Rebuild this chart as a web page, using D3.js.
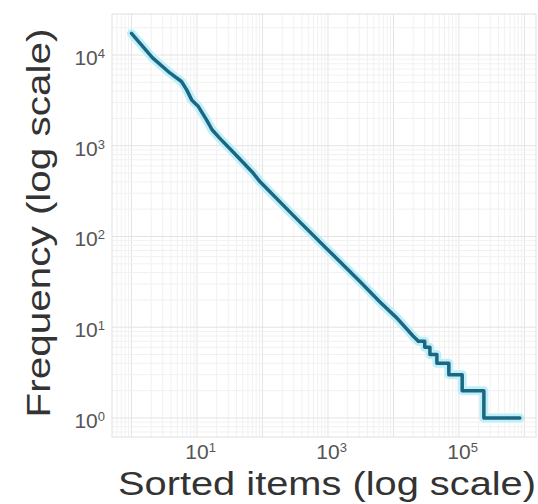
<!DOCTYPE html>
<html lang="en">
  <head>
    <meta charset="utf-8">
    <script src="https://cdn.jsdelivr.net/npm/d3@7/dist/d3.min.js"></script>
    <style>
      body { margin: 0; background: #fff; }
      svg text { font-family: "Liberation Sans", Arial, sans-serif; }
      .grid line { stroke: #f1f1f1; stroke-width: 1; }
      .grid line.major { stroke: #e3e3e3; }
      .tick text { fill: #555; }
    </style>
    <title>Sorted items vs frequency</title>
  </head>
  <body>
    <script>
      var width = 538, height = 504;
      var margin = {left: 112, right: 2, top: 14, bottom: 67};

      // smooth head of the rank/frequency curve
      var headRanks = [1, 2.1, 3.9, 5.8, 7, 8.3, 10.5, 14, 17, 22, 35, 72, 92, 290, 966, 3080, 6220, 11300, 19900, 24000];
      var headFreqs = [17300, 9300, 6300, 5100, 4100, 3200, 2700, 1930, 1500, 1220, 865, 500, 400, 173, 73, 32, 19, 12.6, 8, 7];
      // stepped tail (integer frequencies)
      var tailRanks = [24000, 30000, 36000, 46000, 70000, 112000, 240000, 850000];
      var tailFreqs = [7, 6, 5, 4, 3, 2, 1, 1];

      var xTicks = [10, 1000, 100000];
      var yTicks = [1, 10, 100, 1000, 10000];

      var x = d3.scaleLog().domain([0.504, 1.5e6]).range([margin.left, width - margin.right]);
      var y = d3.scaleLog().domain([0.617, 28300]).range([height - margin.bottom, margin.top]);

      var svg = d3.select("body").append("svg").attr("width", width).attr("height", height);

      // grid: all decade and sub-decade lines
      var xGrid = x.ticks().filter(function(d){ return d >= x.domain()[0] && d <= x.domain()[1]; });
      var yGrid = y.ticks().filter(function(d){ return d >= y.domain()[0] && d <= y.domain()[1]; });
      function isMajor(d) { var l = Math.log10(d); return Math.abs(l - Math.round(l)) < 1e-9; }

      var grid = svg.append("g").attr("class", "grid");
      grid.selectAll("line.v").data(xGrid).enter().append("line")
        .attr("class", function(d){ return isMajor(d) ? "v major" : "v"; })
        .attr("x1", function(d){ return x(d); }).attr("x2", function(d){ return x(d); })
        .attr("y1", margin.top).attr("y2", height - margin.bottom);
      grid.selectAll("line.h").data(yGrid).enter().append("line")
        .attr("class", function(d){ return isMajor(d) ? "h major" : "h"; })
        .attr("y1", function(d){ return y(d); }).attr("y2", function(d){ return y(d); })
        .attr("x1", margin.left).attr("x2", width - margin.right);

      svg.append("rect")
        .attr("x", margin.left).attr("y", margin.top)
        .attr("width", width - margin.left - margin.right)
        .attr("height", height - margin.top - margin.bottom)
        .attr("fill", "none").attr("stroke", "#e0e0e0");

      // axes (no domain / tick marks, just labels)
      function powerLabel(sel) {
        sel.selectAll(".tick text").each(function(d){
          var t = d3.select(this).text(null);
          t.append("tspan").text("10");
          t.append("tspan").attr("dy", "-0.55em").attr("font-size", "13px").text(Math.round(Math.log10(d)));
        });
        sel.select(".domain").remove();
        sel.selectAll(".tick line").remove();
      }

      svg.append("g")
        .attr("transform", "translate(0," + (height - margin.bottom) + ")")
        .call(d3.axisBottom(x).tickValues(xTicks).tickSize(0).tickPadding(7))
        .call(powerLabel)
        .selectAll(".tick text").attr("font-size", "21px").attr("dx", "0.15em");

      svg.append("g")
        .attr("transform", "translate(" + margin.left + ",0)")
        .call(d3.axisLeft(y).tickValues(yTicks).tickSize(0).tickPadding(7))
        .call(powerLabel)
        .selectAll(".tick text").attr("font-size", "21px").attr("dy", "0.45em");

      // curve: halo then line
      var line = d3.line().x(function(d){ return x(d[0]); }).y(function(d){ return y(d[1]); });
      var head = d3.zip(headRanks, headFreqs);
      var tail = d3.zip(tailRanks, tailFreqs);

      [["#bdf0f8", 9], ["#1d6580", 3.5]].forEach(function(s){
        svg.append("path").datum(head).attr("d", line)
          .attr("fill", "none").attr("stroke", s[0]).attr("stroke-width", s[1])
          .attr("stroke-linejoin", "round").attr("stroke-linecap", "round");
        svg.append("path").datum(tail).attr("d", line.curve(d3.curveStepAfter))
          .attr("fill", "none").attr("stroke", s[0]).attr("stroke-width", s[1])
          .attr("stroke-linejoin", "round").attr("stroke-linecap", "round");
        line.curve(d3.curveLinear);
      });

      // axis titles
      svg.append("text")
        .attr("x", 327).attr("y", 495)
        .attr("text-anchor", "middle").attr("font-size", "34px").attr("fill", "#333")
        .attr("textLength", 418).attr("lengthAdjust", "spacingAndGlyphs")
        .text("Sorted items (log scale)");

      svg.append("text")
        .attr("transform", "translate(50,223) rotate(-90)")
        .attr("text-anchor", "middle").attr("font-size", "33px").attr("fill", "#333")
        .attr("textLength", 389).attr("lengthAdjust", "spacingAndGlyphs")
        .text("Frequency (log scale)");
    </script>
  </body>
</html>
